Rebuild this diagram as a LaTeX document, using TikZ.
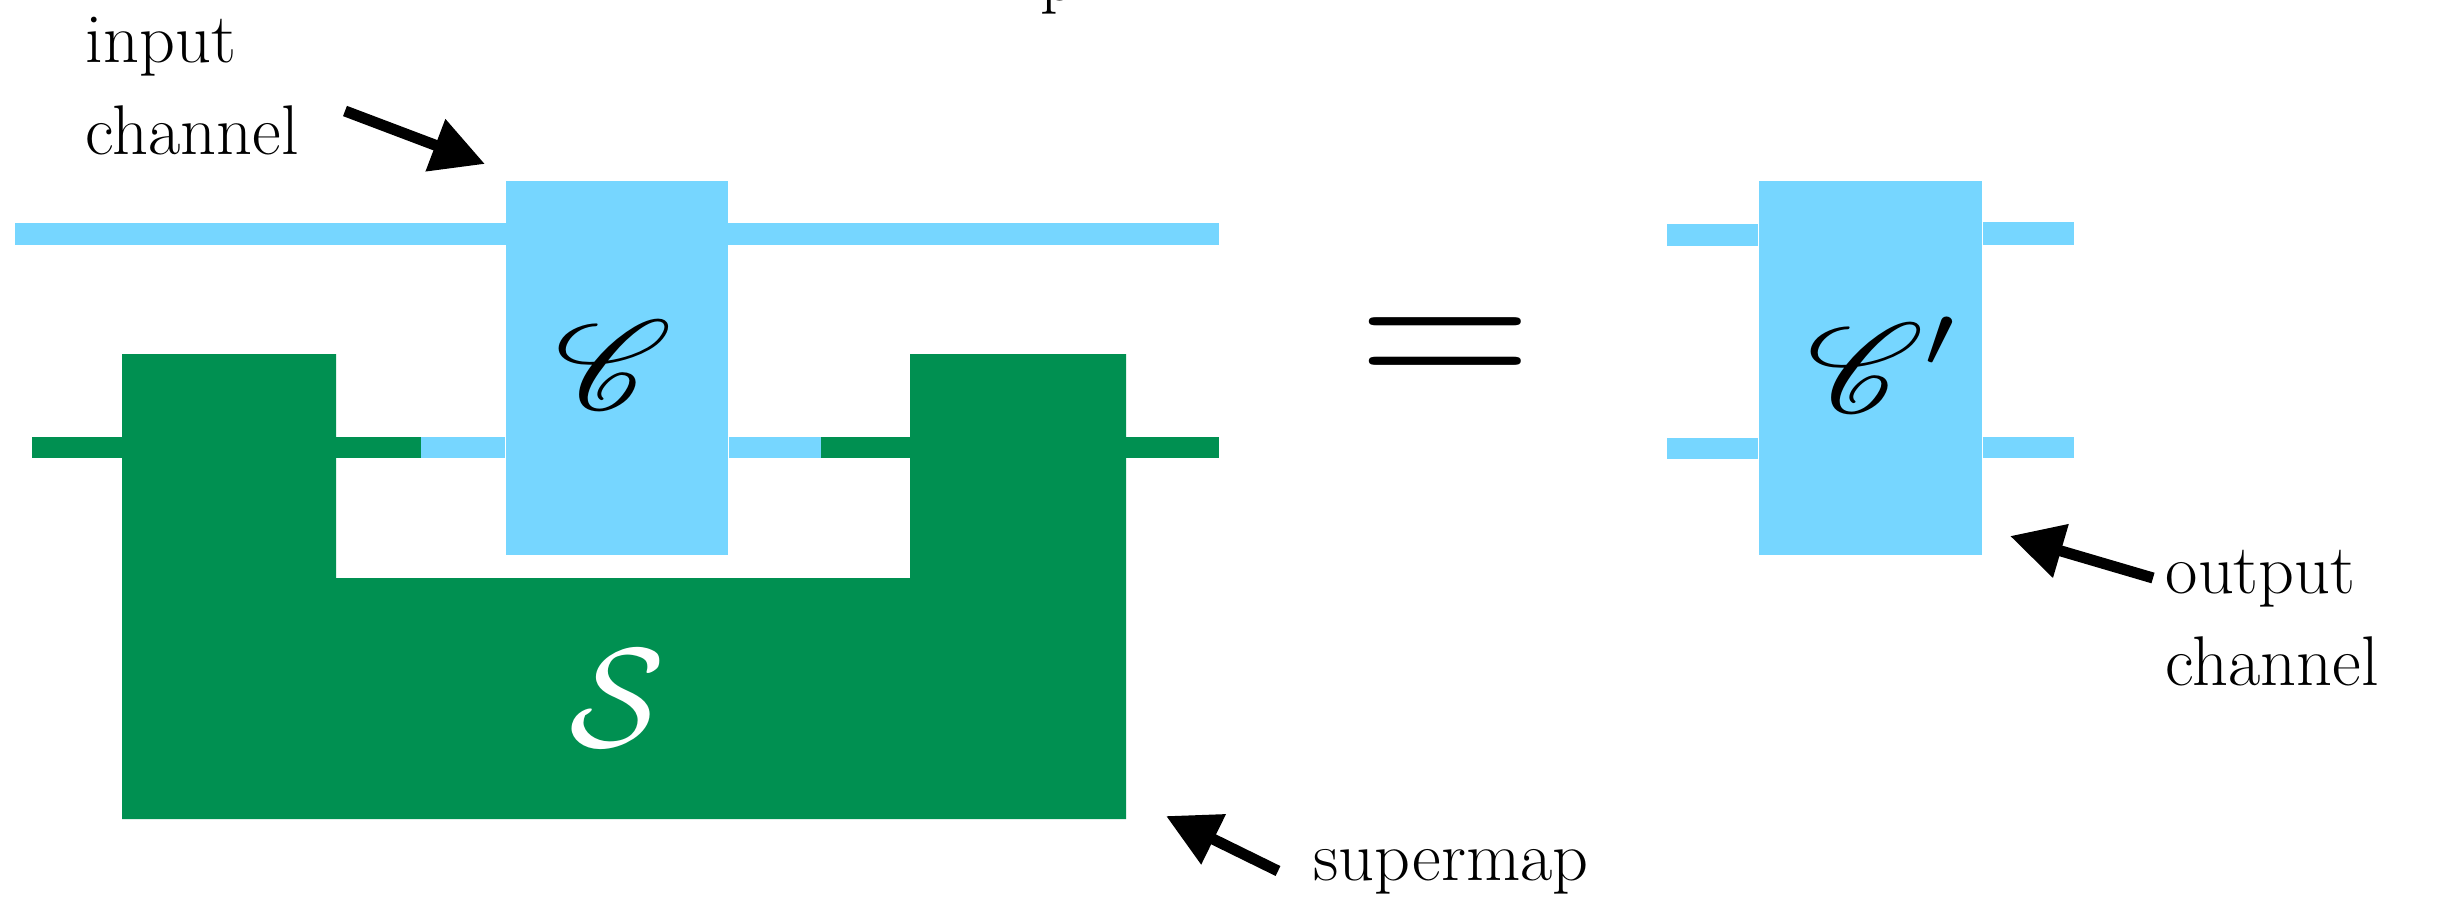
\documentclass[tikz,border=0pt]{standalone}
\usepackage{mathrsfs}
\usetikzlibrary{arrows.meta}
\definecolor{sky}{RGB}{118,214,255}
\definecolor{clover}{RGB}{0,144,81}
\begin{document}
\begin{tikzpicture}[x=0.01cm,y=-0.01cm,
  lbl/.style={font=\fontsize{20}{25.9}\selectfont, inner sep=0pt, align=left},
  chan/.style={fill=sky, draw=none, inner sep=0pt, rectangle},
  mathlbl/.style={font=\fontsize{10}{12}\selectfont, inner sep=0pt, scale=3.6},
  wire/.style={draw=sky, line width=0.22cm},
  cwire/.style={draw=sky, line width=0.21cm},
  gwire/.style={draw=clover, line width=0.21cm},
  pointer/.style={line width=0.11cm, -{Triangle[length=0.53cm,width=0.53cm]}}]
\useasboundingbox (0,0) rectangle (2438,903);

% cut-off letter at the top
\node[lbl, anchor=base west] (ptop) at (1040,1) {p};

% coordinates for wire ends
\coordinate (topL) at (15,234);
\coordinate (topR) at (1219,234);
\coordinate (midL) at (32,447.5);
\coordinate (midR) at (1219,447.5);
\coordinate (jL) at (421,447.5);
\coordinate (jR) at (821,447.5);

% top wire through C
\draw[wire] (topL) -- (topR);

% supermap S
\fill[clover] (122,354) -- (336,354) -- (336,578) -- (910,578) -- (910,354)
   -- (1126,354) -- (1126,819) -- (122,819) -- cycle;
\coordinate (Sleft) at (122,447.5);
\coordinate (SinL) at (336,447.5);
\coordinate (SinR) at (910,447.5);
\coordinate (Sright) at (1126,447.5);
\node[font=\fontsize{10}{12}\selectfont, inner sep=0pt, scale=4, text=white] (Slbl) at (617,698) {$\mathcal{S}$};

% channel C
\node[chan, minimum width=2.22cm, minimum height=3.74cm] (C) at (617,368) {};
\node[mathlbl, xscale=1.1] (Clbl) at (614,365) {$\mathscr{C}$};

% middle wires
\draw[gwire] (midL) -- (Sleft);
\draw[gwire] (SinL) -- (jL);
\draw[cwire] (jL) -- (C.west |- jL);
\draw[cwire] (C.east |- jR) -- (jR);
\draw[gwire] (jR) -- (SinR);
\draw[gwire] (Sright) -- (midR);

% equals sign
\node[inner sep=0pt, font=\fontsize{10}{12}\selectfont, xscale=6.5, yscale=5.8, anchor=base] (eq) at (1445,392) {$=$};

% channel C'
\node[chan, minimum width=2.23cm, minimum height=3.74cm] (Cp) at (1870.5,368) {};
\node[mathlbl, xscale=1.1] (Cplbl) at (1885,365) {$\mathscr{C}'$};
\coordinate (cpTL) at (1667,235);
\coordinate (cpTR) at (2074,233.5);
\coordinate (cpBL) at (1667,448.5);
\coordinate (cpBR) at (2074,447.5);
\draw[wire] (cpTL) -- (Cp.west |- cpTL);
\draw[wire] (Cp.east |- cpTR) -- (cpTR);
\draw[cwire] (cpBL) -- (Cp.west |- cpBL);
\draw[cwire] (Cp.east |- cpBR) -- (cpBR);

% labels
\node[lbl, anchor=base west] (inlbl) at (85,154) {input\\channel};
\node[lbl, anchor=base west] (outlbl) at (2165,685) {output\\channel};
\node[lbl, anchor=base west] (suplbl) at (1313,880) {supermap};

% pointers
\coordinate (inTail) at (345,111);
\coordinate (inTip) at (485,164);
\coordinate (outTail) at (2153,578);
\coordinate (outTip) at (2010,536);
\coordinate (supTail) at (1278,871);
\coordinate (supTip) at (1166,816);
\draw[pointer] (inTail) -- (inTip);
\draw[pointer] (outTail) -- (outTip);
\draw[pointer] (supTail) -- (supTip);
\end{tikzpicture}
\end{document}
